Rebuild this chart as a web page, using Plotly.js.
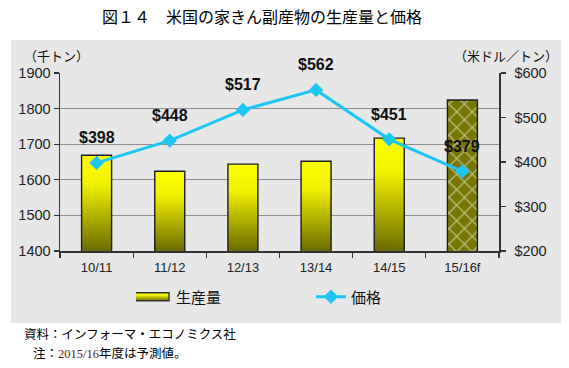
<!DOCTYPE html>
<html>
<head>
<meta charset="utf-8">
<script src="https://cdn.plot.ly/plotly-3.0.1.min.js"></script>
<style>
  html, body { margin: 0; padding: 0; background: #ffffff; }
  #chart { width: 569px; height: 368px; }
</style>
</head>
<body>
<div id="chart"></div>
<script>
// ---- data ----
const categories = ['10/11', '11/12', '12/13', '13/14', '14/15', '15/16f'];
const production = [1669, 1624, 1644, 1652, 1717, 1824];   // 千トン
const price = [398, 448, 517, 562, 451, 379];              // 米ドル／トン
const forecastFlags = [false, false, false, false, false, true];
const leftTicks = [1400, 1500, 1600, 1700, 1800, 1900];
const rightTicks = [200, 300, 400, 500, 600];
const rightTickText = rightTicks.map(v => '$' + v);
const priceLabels = price.map(p => '$' + p);

const titleText = '図１４　米国の家きん副産物の生産量と価格';
const leftUnit = '（千トン）';
const rightUnit = '（米ドル／トン）';
const note1 = '資料：インフォーマ・エコノミクス社';
const note2 = '注：<span style="font-family:\'Liberation Serif\';color:#5a1e14">2015/16</span>年度は予測値。';

const CJK = '"Noto Sans CJK JP", "Noto Sans", sans-serif';
const LAT = '"Liberation Sans", Arial, sans-serif';

const W = 569, H = 368;
const M = {l: 60, r: 70, t: 73, b: 117};
const PW = W - M.l - M.r, PH = H - M.t - M.b;
const px = x => (x - M.l) / PW;
const py = y => (H - M.b - y) / PH;

const barTrace = {
  type: 'bar',
  name: '生産量',
  x: categories,
  y: production,
  width: 0.41,
  marker: {
    color: forecastFlags.map(f => f ? '#767600' : '#e0e000'),
    line: {color: '#1e1e1e', width: 1.4},
    pattern: {
      shape: forecastFlags.map(f => f ? 'x' : ''),
      fillmode: 'overlay',
      fgcolor: '#e8e820',
      size: 11,
      solidity: 0.22
    }
  },
  yaxis: 'y',
  hoverinfo: 'skip'
};

const lineTrace = {
  type: 'scatter',
  mode: 'lines+markers',
  name: '価格',
  x: categories,
  y: price,
  yaxis: 'y2',
  line: {color: '#1cc6f4', width: 3},
  marker: {symbol: 'diamond', size: 11, color: '#1cc6f4'},
  cliponaxis: false,
  hoverinfo: 'skip'
};

const labelAnnotations = categories.map((c, i) => ({
  text: priceLabels[i], x: c, y: price[i], xref: 'x', yref: 'y2',
  xanchor: 'center', yanchor: 'middle', yshift: 25, showarrow: false,
  font: {family: LAT, size: 16, color: '#111111', weight: 'bold'}
}));

const layout = {
  width: W, height: H,
  margin: M,
  paper_bgcolor: '#ffffff',
  plot_bgcolor: 'rgba(0,0,0,0)',
  showlegend: true,
  title: {
    text: titleText,
    font: {family: CJK, size: 16, color: '#000000'},
    x: 262 / W, xref: 'container', xanchor: 'center',
    y: 1 - 17 / H, yref: 'container', yanchor: 'middle'
  },
  xaxis: {
    type: 'category',
    tickson: 'boundaries',
    ticks: 'outside', ticklen: 5, tickcolor: '#333', tickwidth: 1.3,
    showline: true, linecolor: '#333', linewidth: 1.5,
    showgrid: false,
    ticklabelstandoff: 4,
    tickfont: {family: LAT, size: 13, color: '#222'},
    range: [-0.5, categories.length - 0.5]
  },
  yaxis: {
    range: [leftTicks[0], leftTicks[leftTicks.length - 1]],
    tickvals: leftTicks,
    ticks: 'outside', ticklen: 5, tickcolor: '#333', tickwidth: 1.3,
    showline: true, linecolor: '#333', linewidth: 1.5,
    showgrid: true, gridcolor: '#8f8f8f', gridwidth: 1,
    zeroline: false,
    tickfont: {family: LAT, size: 14.5, color: '#222'}
  },
  yaxis2: {
    overlaying: 'y', side: 'right',
    range: [rightTicks[0], rightTicks[rightTicks.length - 1]],
    tickvals: rightTicks,
    ticktext: rightTickText,
    ticks: 'outside', ticklen: 5, tickcolor: '#333', tickwidth: 1.3,
    showline: true, linecolor: '#333', linewidth: 1.5,
    showgrid: false, zeroline: false,
    ticklabelstandoff: 6,
    tickfont: {family: LAT, size: 14.5, color: '#222'}
  },
  yaxis3: {
    overlaying: 'y', side: 'left',
    range: [leftTicks[0], leftTicks[leftTicks.length - 1]],
    tickvals: leftTicks, ticks: 'inside', ticklen: 4, tickcolor: '#333', tickwidth: 1.3,
    showticklabels: false, showgrid: false, showline: false, zeroline: false
  },
  yaxis4: {
    overlaying: 'y', side: 'right',
    range: [rightTicks[0], rightTicks[rightTicks.length - 1]],
    tickvals: rightTicks, ticks: 'inside', ticklen: 4, tickcolor: '#333', tickwidth: 1.3,
    showticklabels: false, showgrid: false, showline: false, zeroline: false
  },
  legend: {
    orientation: 'h',
    x: px(136), xanchor: 'left',
    y: py(297), yanchor: 'middle',
    font: {family: CJK, size: 15, color: '#111'},
    bgcolor: 'rgba(0,0,0,0)',
    entrywidth: 130, entrywidthmode: 'pixels',
    traceorder: 'normal'
  },
  shapes: [{
    type: 'rect', xref: 'paper', yref: 'paper', layer: 'below',
    x0: px(11), x1: px(561), y0: py(323), y1: py(40),
    fillcolor: '#e7e7e7', line: {width: 0}
  }],
  annotations: [
    {text: leftUnit, xref: 'paper', yref: 'paper', x: px(22), y: py(55), xanchor: 'left', yanchor: 'middle', showarrow: false, font: {family: CJK, size: 13, color: '#111'}},
    {text: rightUnit, xref: 'paper', yref: 'paper', x: px(560), y: py(55), xanchor: 'right', yanchor: 'middle', showarrow: false, font: {family: CJK, size: 13, color: '#111'}},
    {text: note1, xref: 'paper', yref: 'paper', x: px(22), y: py(333), xanchor: 'left', yanchor: 'middle', showarrow: false, font: {family: CJK, size: 12.5, color: '#000'}},
    {text: note2, xref: 'paper', yref: 'paper', x: px(31), y: py(352), xanchor: 'left', yanchor: 'middle', showarrow: false, font: {family: CJK, size: 12.5, color: '#000'}}
  ].concat(labelAnnotations)
};

function styleBars(gd) {
  const ns = 'http://www.w3.org/2000/svg';
  const svg = gd.querySelector('.main-svg');
  let defs = svg.querySelector('defs');
  if (!defs) { defs = document.createElementNS(ns, 'defs'); svg.insertBefore(defs, svg.firstChild); }
  const stops = [[0, '#ffff00'], [0.3, '#f2f200'], [1, '#6b6b00']];
  function makeGrad(id, attrs) {
    const old = document.getElementById(id); if (old) old.remove();
    const g = document.createElementNS(ns, 'linearGradient');
    g.setAttribute('id', id);
    Object.keys(attrs).forEach(k => g.setAttribute(k, attrs[k]));
    stops.forEach(s => {
      const st = document.createElementNS(ns, 'stop');
      st.setAttribute('offset', s[0]); st.setAttribute('stop-color', s[1]);
      g.appendChild(st);
    });
    defs.appendChild(g);
  }
  const plotH = gd._fullLayout._size.h;
  const paths = gd.querySelectorAll('.barlayer .trace .point path');
  paths.forEach((p, i) => {
    if (forecastFlags[i]) return;
    const bb = p.getBBox();
    const id = 'barGrad' + i;
    makeGrad(id, {gradientUnits: 'userSpaceOnUse', x1: 0, x2: 0, y1: bb.y, y2: plotH});
    p.style.fill = 'url(#' + id + ')';
  });
  const legPaths = gd.querySelectorAll('.legend .traces')[0];
  if (legPaths) {
    const lp = legPaths.querySelector('.legendpoints path');
    if (lp) {
      makeGrad('legGrad', {x1: 0, y1: 0, x2: 0, y2: 1});
      lp.setAttribute('d', 'M13,4H-21V-4H13Z');
      lp.style.fill = 'url(#legGrad)';
      lp.style.fillOpacity = 1;
      lp.style.stroke = '#333';
    }
  }
}

Plotly.newPlot('chart', [barTrace, lineTrace], layout, {staticPlot: true, displayModeBar: false})
  .then(gd => { styleBars(gd); });
</script>
</body>
</html>
